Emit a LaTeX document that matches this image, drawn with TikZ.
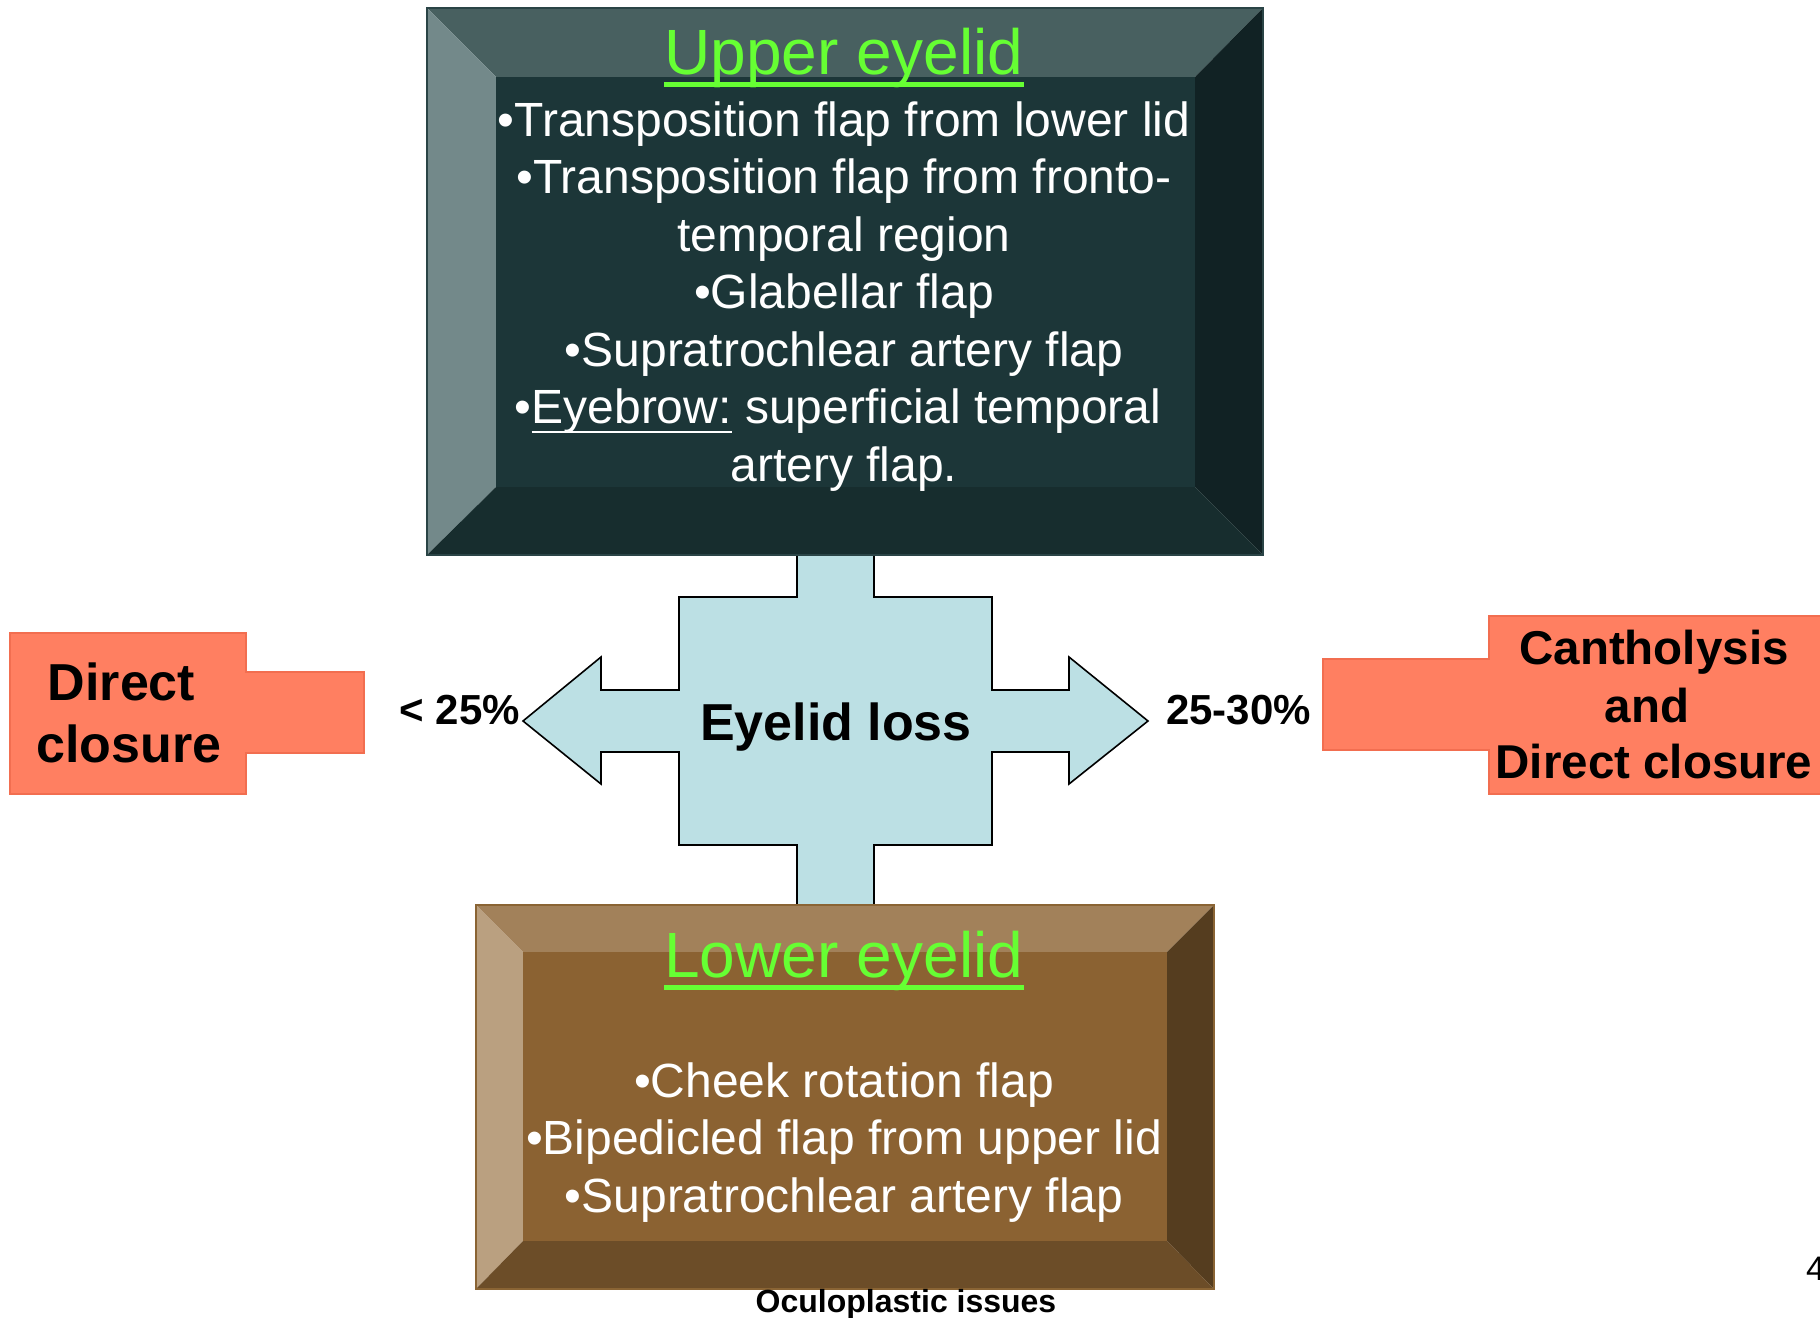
\documentclass[tikz,border=0pt]{standalone}
\usepackage{fontspec}
\setmainfont{Liberation Sans}
\usetikzlibrary{calc}

\definecolor{upmain}{HTML}{1C3638}
\definecolor{uptop}{HTML}{486060}
\definecolor{upleft}{HTML}{73898A}
\definecolor{upright}{HTML}{112224}
\definecolor{upbot}{HTML}{172D2E}
\definecolor{upedge}{HTML}{2A4446}
\definecolor{lomain}{HTML}{8B6232}
\definecolor{lotop}{HTML}{A2815A}
\definecolor{loleft}{HTML}{BAA080}
\definecolor{loright}{HTML}{553D1F}
\definecolor{lobot}{HTML}{6C4D28}
\definecolor{loedge}{HTML}{8A6434}
\definecolor{titlegreen}{HTML}{66FF33}
\definecolor{coral}{HTML}{FF7F61}
\definecolor{coraledge}{HTML}{F26E50}
\definecolor{crossblue}{HTML}{BCE0E4}

\newsavebox{\ulbox}
\newcommand{\myuline}[1]{\sbox{\ulbox}{#1}\rlap{\rule[-9.5pt]{\wd\ulbox}{2.5pt}}\usebox{\ulbox}}

\tikzset{
  bodytext/.style={text=white, font=\fontsize{48}{57}\selectfont, anchor=base, inner sep=0pt},
  titletext/.style={text=titlegreen, font=\fontsize{64}{70}\selectfont, anchor=base, inner sep=0pt},
  pctlabel/.style={text=black, font=\bfseries\fontsize{42}{50}\selectfont, inner sep=0pt},
  bigbold/.style={text=black, font=\bfseries\fontsize{52}{60}\selectfont, anchor=base, inner sep=0pt},
  midbold/.style={text=black, font=\bfseries\fontsize{47.5}{57}\selectfont, anchor=base, inner sep=0pt},
  titleline/.style={draw=titlegreen, line width=4.5pt},
  crossshape/.style={fill=crossblue, draw=black, line width=1.6pt, line join=miter},
  coralshape/.style={fill=coral, draw=coraledge, line width=1.5pt},
}

\begin{document}
\begin{tikzpicture}[x=1pt,y=-1pt]
\useasboundingbox (0,0) rectangle (1820,1317);
\clip (0,0) rectangle (1820,1317);
\fill[white] (0,0) rectangle (1820,1317);

% cross-shaped double arrow
\draw[crossshape] (797,554) -- (874,554) -- (874,597) -- (992,597) -- (992,690)
  -- (1069,690) -- (1069,657) -- (1148,721) -- (1069,784) -- (1069,752)
  -- (992,752) -- (992,845) -- (874,845) -- (874,905) -- (797,905)
  -- (797,845) -- (679,845) -- (679,752) -- (601,752) -- (601,784)
  -- (523,721) -- (601,657) -- (601,690) -- (679,690) -- (679,597)
  -- (797,597) -- cycle;
\node[bigbold] (loss) at (836,740) {Eyelid loss};
\node[pctlabel, anchor=base east] (lt25) at (520,724) {< 25\%};
\node[pctlabel, anchor=base west] (p2530) at (1166,724) {25-30\%};

% upper bevelled box
\fill[uptop] (427,8) -- (1263,8) -- (1195,77) -- (496,77) -- cycle;
\fill[upleft] (427,8) -- (496,77) -- (496,487) -- (427,555) -- cycle;
\fill[upright] (1263,8) -- (1263,555) -- (1195,487) -- (1195,77) -- cycle;
\fill[upbot] (427,555) -- (496,487) -- (1195,487) -- (1263,555) -- cycle;
\fill[upmain] (496,77) rectangle (1195,487);
\node[draw=upedge, line width=1.5pt, inner sep=0pt, minimum width=836pt, minimum height=547pt] (upperbox) at (845,281.5) {};

\node[titletext] (uptitle) at (844,74) {Upper eyelid};
\draw[titleline] ([yshift=-10.5pt]uptitle.base west) -- ([yshift=-10.5pt]uptitle.base east);
\node[bodytext] (u1) at (844,136) {•Transposition flap from lower lid};
\node[bodytext] (u2) at (844,193.5) {•Transposition flap from fronto-};
\node[bodytext] (u3) at (844,251) {temporal region};
\node[bodytext] (u4) at (844,308.5) {•Glabellar flap};
\node[bodytext] (u5) at (844,366) {•Supratrochlear artery flap};
\node[bodytext] (u6) at (838,423.5) {•\myuline{Eyebrow:} superficial temporal};
\node[bodytext] (u7) at (844,481) {artery flap.};

% lower bevelled box
\fill[lotop] (476,905) -- (1214,905) -- (1167,952) -- (523,952) -- cycle;
\fill[loleft] (476,905) -- (523,952) -- (523,1241) -- (476,1289) -- cycle;
\fill[loright] (1214,905) -- (1214,1289) -- (1167,1241) -- (1167,952) -- cycle;
\fill[lobot] (476,1289) -- (523,1241) -- (1167,1241) -- (1214,1289) -- cycle;
\fill[lomain] (523,952) rectangle (1167,1241);
\node[draw=loedge, line width=1.5pt, inner sep=0pt, minimum width=738pt, minimum height=384pt] (lowerbox) at (845,1097) {};

\node[titletext] (lotitle) at (844,977) {Lower eyelid};
\draw[titleline] ([yshift=-10.5pt]lotitle.base west) -- ([yshift=-10.5pt]lotitle.base east);
\node[bodytext] (l1) at (844,1097) {•Cheek rotation flap};
\node[bodytext] (l2) at (844,1154.5) {•Bipedicled flap from upper lid};
\node[bodytext] (l3) at (844,1212) {•Supratrochlear artery flap};

% left coral box
\draw[coralshape] (10,633) -- (246,633) -- (246,672) -- (364,672) -- (364,753)
  -- (246,753) -- (246,794) -- (10,794) -- cycle;
\node[bigbold] (dc1) at (121.5,700) {Direct};
\node[bigbold] (dc2) at (129,762) {closure};

% right coral box
\draw[coralshape] (1489,616) -- (1830,616) -- (1830,794) -- (1489,794) -- (1489,750)
  -- (1323,750) -- (1323,659) -- (1489,659) -- cycle;
\node[midbold] (cd1) at (1654,664) {Cantholysis};
\node[midbold] (cd2) at (1647,722) {and};
\node[midbold] (cd3) at (1654,778) {Direct closure};

% footer
\node[text=black, font=\bfseries\fontsize{32}{38}\selectfont, anchor=base, inner sep=0pt] (footer) at (906,1312) {Oculoplastic issues};
\node[text=black, font=\fontsize{34}{40}\selectfont, anchor=base west, inner sep=0pt] (pagenum) at (1806,1280) {4};
\end{tikzpicture}
\end{document}
